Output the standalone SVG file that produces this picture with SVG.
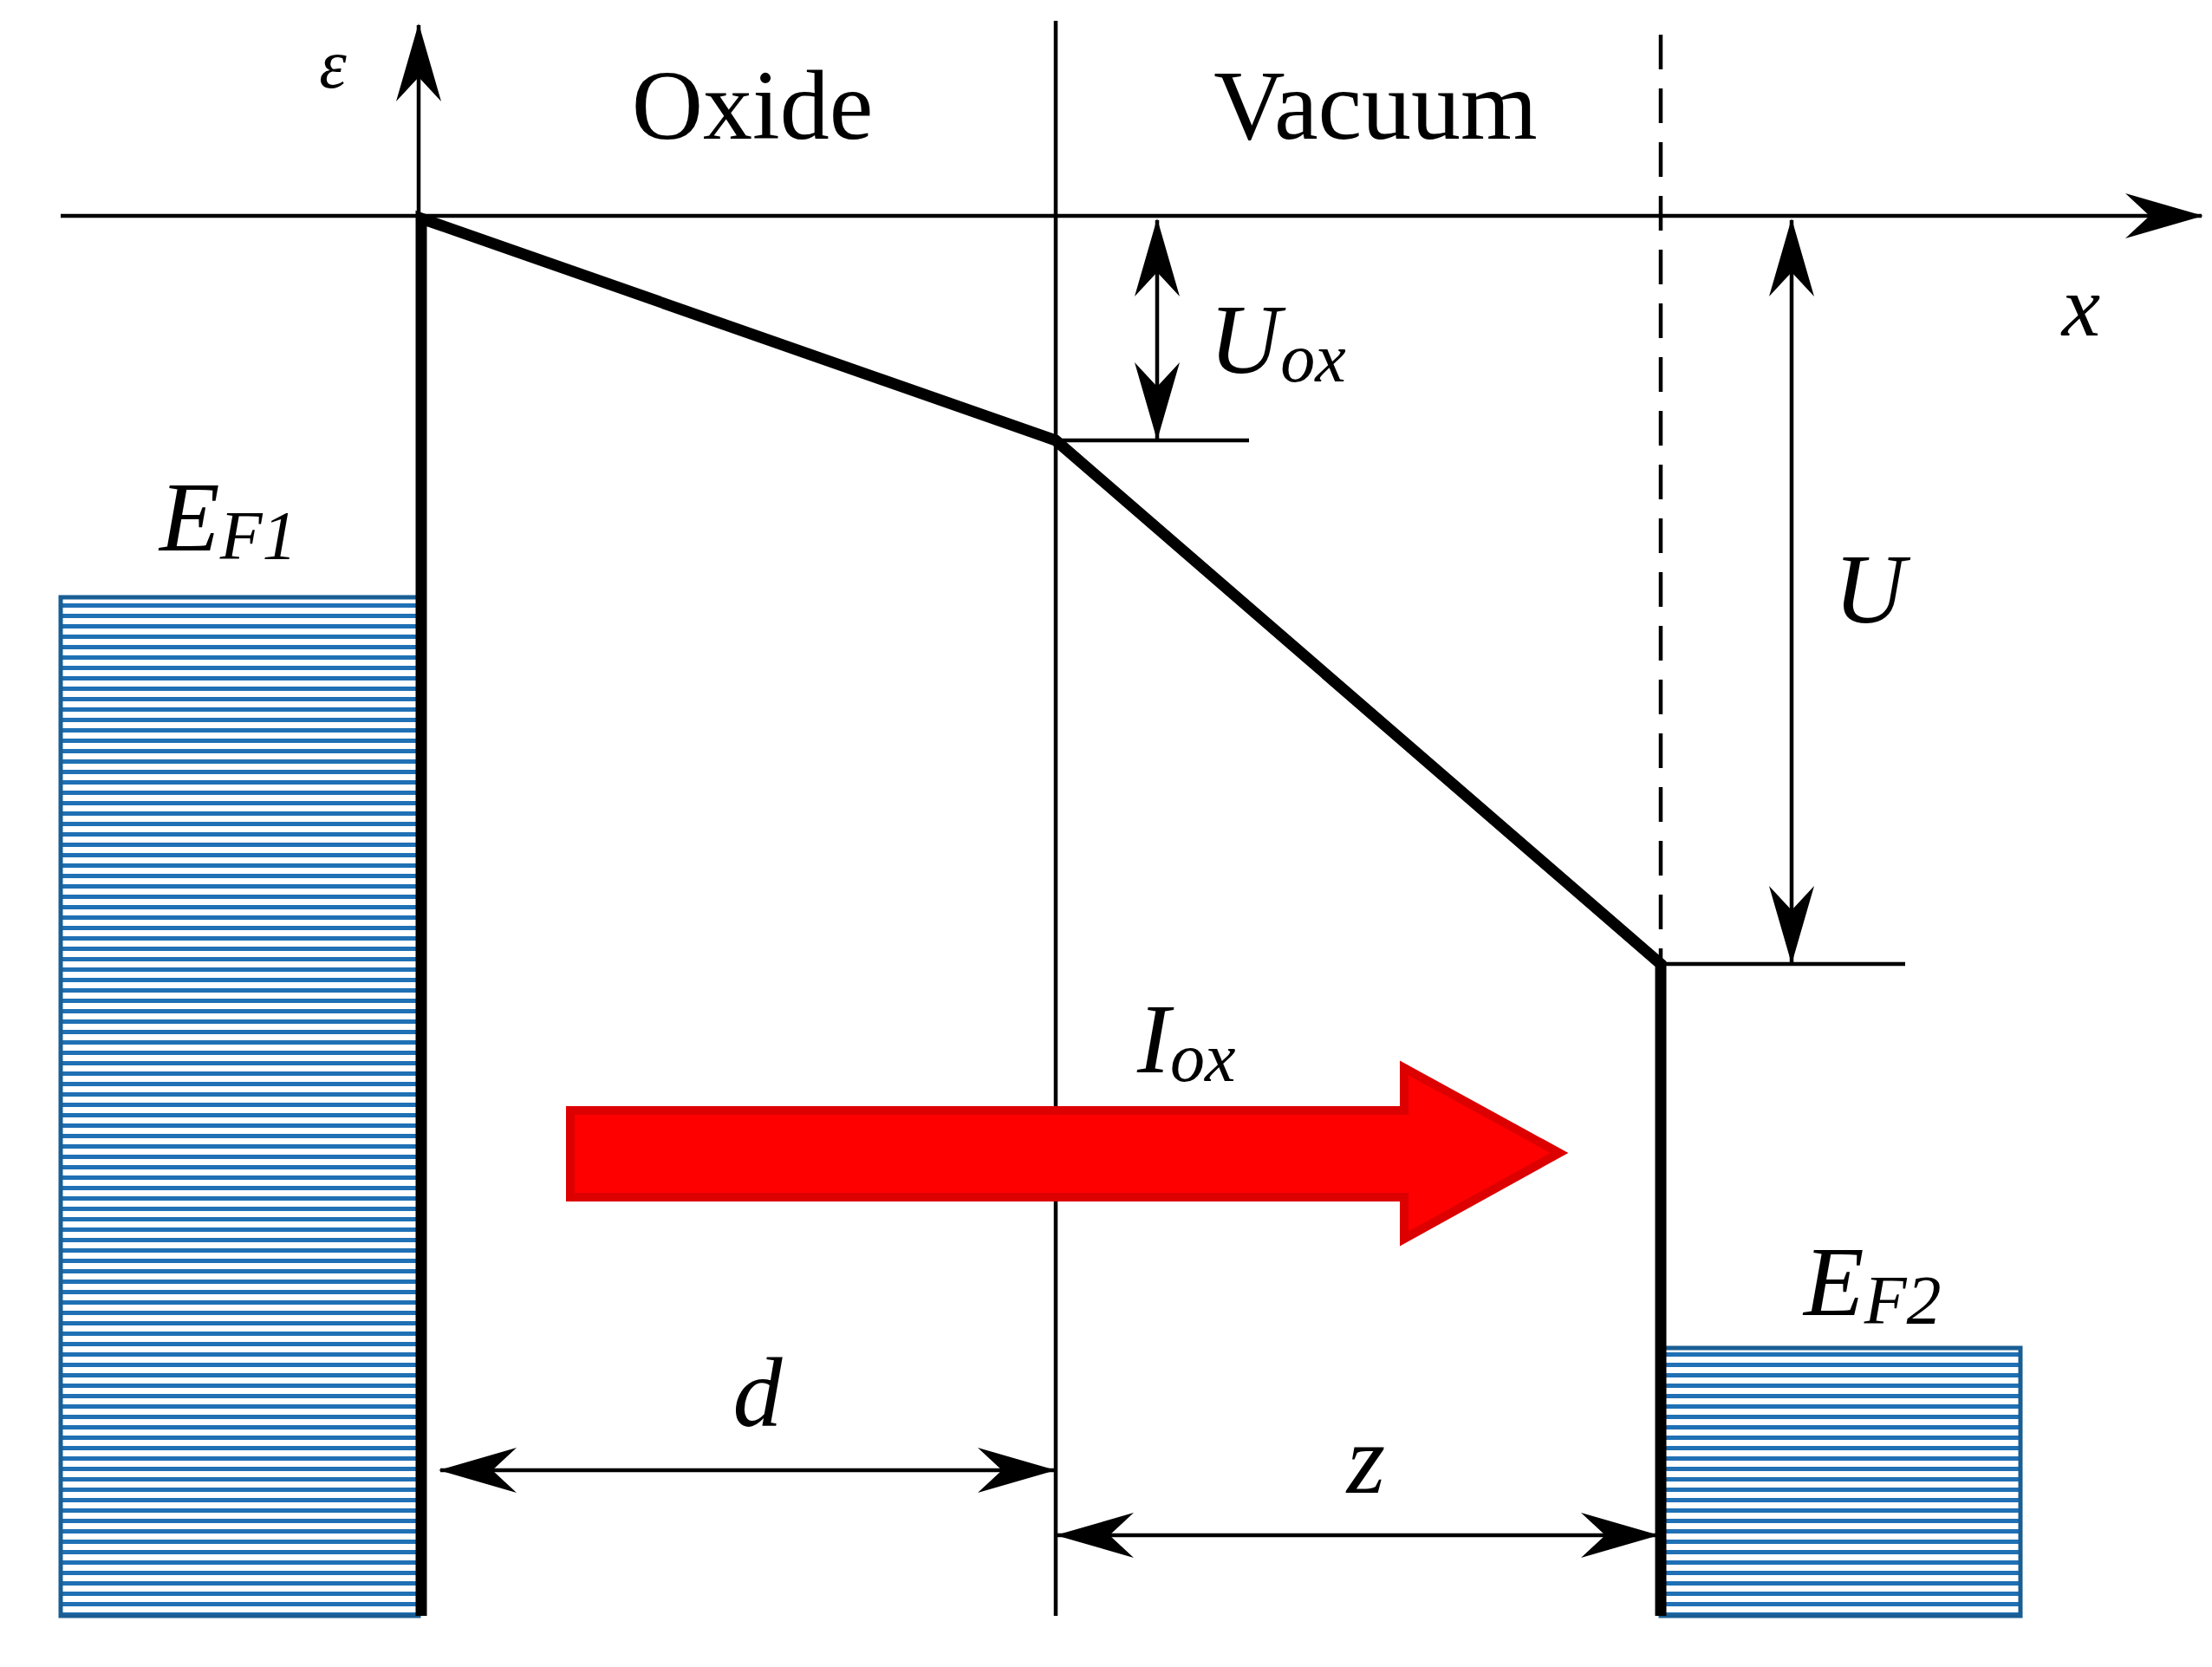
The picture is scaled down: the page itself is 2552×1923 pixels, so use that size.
<svg xmlns="http://www.w3.org/2000/svg" width="2552" height="1923" viewBox="0 0 2552 1923">
<style>
.t{font-family:"Liberation Serif",serif;fill:#000}
.i{font-style:italic}
.thin{stroke:#000;stroke-width:4.5;fill:none}
.thick{stroke:#000;stroke-width:13;fill:none;stroke-linejoin:miter}
</style>
<defs>
<pattern id="h" width="20" height="12" patternUnits="userSpaceOnUse">
<rect width="20" height="12" fill="#fff"/>
<rect y="0" width="20" height="5" fill="#1f70b4"/>
</pattern>
<marker id="a" viewBox="0 0 90 52" refX="88" refY="26" markerWidth="90" markerHeight="52" markerUnits="userSpaceOnUse" orient="auto-start-reverse">
<path d="M0,0 L90,26 L0,52 L28,26 Z" fill="#000"/>
</marker>
</defs>
<rect width="2552" height="1923" fill="#fff"/>
<g id="bands">
<rect x="70" y="689" width="413" height="1175" fill="url(#h)" stroke="#1a5e94" stroke-width="5"/>
<rect x="1916" y="1555" width="415" height="309" fill="url(#h)" stroke="#1a5e94" stroke-width="5"/>
</g>
<g id="connectors">
<line class="thin" x1="70" y1="249" x2="2540" y2="249" marker-end="url(#a)"/>
<line class="thin" x1="483" y1="249" x2="483" y2="29" marker-end="url(#a)"/>
<line class="thin" x1="1218" y1="24" x2="1218" y2="1864"/>
<line class="thin" x1="1916" y1="40" x2="1916" y2="1112" stroke-dasharray="40,22"/>
<line class="thin" x1="1218" y1="508" x2="1441" y2="508"/>
<line class="thin" x1="1335" y1="254" x2="1335" y2="506" marker-start="url(#a)" marker-end="url(#a)"/>
<line class="thin" x1="1916" y1="1112" x2="2198" y2="1112"/>
<line class="thin" x1="2067" y1="254" x2="2067" y2="1110" marker-start="url(#a)" marker-end="url(#a)"/>
<line class="thin" x1="508" y1="1696" x2="1216" y2="1696" marker-start="url(#a)" marker-end="url(#a)"/>
<line class="thin" x1="1220" y1="1771" x2="1912" y2="1771" marker-start="url(#a)" marker-end="url(#a)"/>
<polyline class="thick" points="486,1864 486,252 1218,508 1916,1112 1916,1864"/>
<path d="M658,1281 L1620,1281 L1620,1232 L1799,1330 L1620,1429 L1620,1381 L658,1381 Z" fill="#ff0000" stroke="#dd0000" stroke-width="10"/>
</g>
<g id="labels">
<text class="t i" x="384" y="101" font-size="80" text-anchor="middle">ε</text>
<text class="t" x="868" y="160" font-size="114" text-anchor="middle">Oxide</text>
<text class="t" x="1587" y="160" font-size="114" text-anchor="middle">Vacuum</text>
<text class="t i" x="2401" y="387" font-size="100" text-anchor="middle">x</text>
<text class="t i" x="1395" y="430" font-size="114">U<tspan font-size="80" dy="10">ox</tspan></text>
<text class="t i" x="2157" y="718" font-size="114" text-anchor="middle">U</text>
<text class="t i" x="184" y="635" font-size="114">E<tspan font-size="80" dy="10">F1</tspan></text>
<text class="t i" x="1312" y="1237" font-size="114">I<tspan font-size="80" dy="10">ox</tspan></text>
<text class="t i" x="2081" y="1517" font-size="114">E<tspan font-size="80" dy="10">F2</tspan></text>
<text class="t i" x="874" y="1645" font-size="114" text-anchor="middle">d</text>
<text class="t i" x="1576" y="1722" font-size="114" text-anchor="middle">z</text>
</g>
</svg>
